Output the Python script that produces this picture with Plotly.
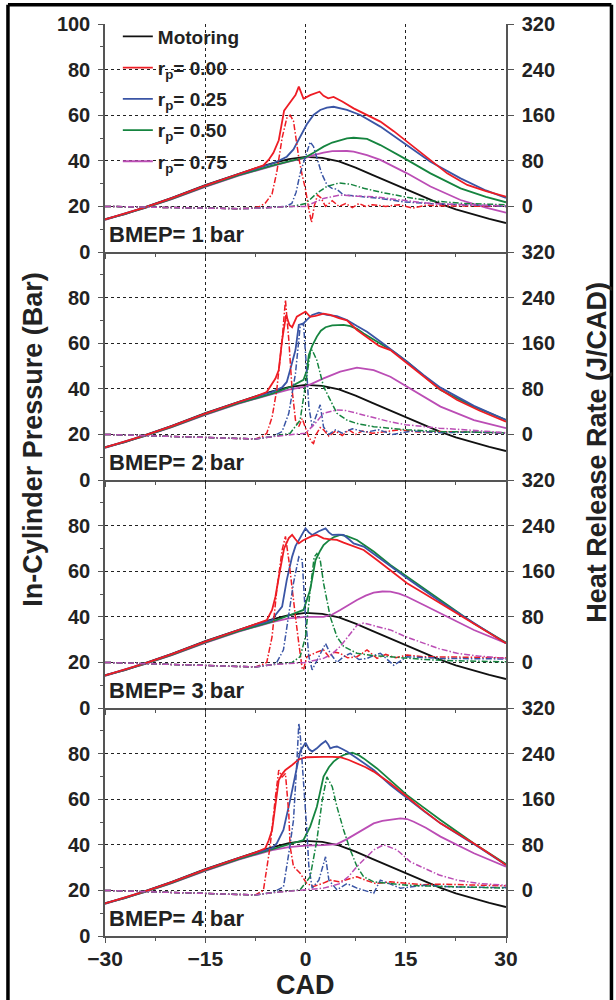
import plotly.graph_objects as go
from plotly.subplots import make_subplots

# ---------------- data ----------------
X_TICKS = [-30, -15, 0, 15, 30]
P_TICKS_TOP = [0, 20, 40, 60, 80, 100]
P_TICKS = [0, 20, 40, 60, 80]
HRR_TICKS = [0, 80, 160, 240, 320]
PANEL_LABELS = ["BMEP= 1 bar", "BMEP= 2 bar", "BMEP= 3 bar", "BMEP= 4 bar"]
SERIES_NAMES = ["Motoring", "r<sub>p</sub>= 0.00", "r<sub>p</sub>= 0.25",
                "r<sub>p</sub>= 0.50", "r<sub>p</sub>= 0.75"]

# Motoring pressure (same in every panel)
MOT_CAD = [-30, -27, -24, -20, -15, -10, -7.5, -5, -2.5, 0, 2.5, 5, 7.5, 10, 12.5, 15, 17.5, 20, 22.5, 25, 27.5, 30]
MOT_P = [14.4, 16.6, 19.7, 23.7, 29.3, 34.4, 36.7, 38.9, 40.7, 41.7, 41.3, 39.7, 37.0, 33.8, 30.7, 27.7, 24.4, 21.3, 18.7, 16.5, 14.5, 12.7]

# ---- BMEP 1 bar ----
B1_R00_CAD = [-30, -24, -20, -15, -10, -7.5, -6.3, -5.5, -4.8, -4.0, -3.6, -3.2, -2.7, -2.0, -1.5, -1.0, -0.3, 0.7, 2.1, 2.7, 3.4, 4.2, 5.5, 7.2, 9.2, 11.2, 13.2, 16.2, 18.7, 21.2, 24.2, 27, 30]
B1_R00_P = [14.3, 19.6, 23.6, 29.1, 34.2, 36.6, 38, 40.5, 43.5, 49, 55, 62, 64, 66.5, 68.8, 72.5, 67.2, 68.8, 70.3, 68.5, 67.4, 68, 66, 63, 60, 57.2, 53, 46.2, 40.4, 34.5, 29.4, 26.7, 24.3]
B1_R25_CAD = [-30, -24, -20, -15, -10, -7.5, -5, -3.8, -2.8, -1.8, -0.8, -0.3, 0.2, 1.2, 2.2, 3.2, 4.2, 6.2, 8.2, 11.2, 15.2, 18.7, 23.2, 27, 30]
B1_R25_P = [14.3, 19.6, 23.6, 29.1, 34.2, 36.5, 38.7, 40.3, 41.8, 45, 50.5, 53.5, 56, 60.1, 62.3, 63.3, 63.7, 62.3, 60.1, 55, 46.9, 39.6, 32.3, 27, 23.7]
B1_R50_CAD = [-30, -24, -20, -15, -10, -7.5, -5, -2.5, 0, 1.2, 2.7, 4, 5.2, 6.2, 7.2, 8.2, 9.2, 11.2, 13.2, 15.2, 18.7, 23.2, 27, 30]
B1_R50_P = [14.2, 19.4, 23.3, 28.8, 33.7, 35.9, 37.9, 39.8, 41.5, 43.5, 46.2, 48, 49.1, 49.8, 50.1, 50, 49.6, 46.9, 43.8, 40.4, 34.5, 27.9, 24.2, 21.8]
B1_R75_CAD = [-30, -24, -20, -15, -10, -7.5, -5, -2.5, 0, 1.2, 2.7, 4, 5.2, 6.2, 7.2, 9.2, 11.2, 13.2, 15.2, 18.7, 23.2, 27, 30]
B1_R75_P = [14.1, 19.3, 23.2, 28.6, 33.5, 35.7, 37.7, 39.6, 41.3, 42.5, 43.6, 44.2, 44.4, 44.3, 44, 42.5, 40.4, 37.5, 34.5, 28.7, 22.8, 19.5, 17.3]

B1_H00_CAD = [-30, -25, -20, -15, -10, -8, -6.8, -6, -5, -4.3, -3.5, -2.8, -2.3, -1.8, -1.3, -1, -0.5, 0, 0.5, 0.9, 1.3, 1.8, 2.3, 3, 3.5, 4, 5, 6, 7, 8, 9, 10, 12, 14, 16, 18, 20, 25, 30]
B1_H00 = [0, -1, -3, -4, -4, -3, 0, 6, 22, 60, 120, 155, 160, 150, 110, 85, 55, 30, -5, -28, 0, 20, 15, 0, 5, 10, 0, 5, -2, 5, 0, 3, 0, 3, -3, 2, 1, 1, 0]
B1_H25_CAD = [-30, -25, -20, -15, -10, -7, -4, -3, -2.05, -1.4, -0.8, 0, 0.7, 1.2, 1.7, 2.4, 3.2, 3.9, 4.7, 5.7, 7.7, 11.2, 14.7, 18.7, 26, 30]
B1_H25 = [0, -1, -3, -4, -4, -3, -1, 0, 5, 25, 58, 87, 113, 105, 87, 58, 38, 32, 30, 20, 18, 14, 8, 5, 2, 0]
B1_H50_CAD = [-30, -25, -20, -15, -10, -7, -4, -2, 0, 1.7, 3.2, 5, 6.7, 8.7, 11.2, 15.2, 18.7, 23.7, 30]
B1_H50 = [0, -1, -3, -4, -4, -3, -1, 0, 5, 23, 35, 41, 39, 32, 25, 16, 10, 5, 3]
B1_H75_CAD = [-30, -25, -20, -15, -10, -7, -4, -2, 0, 2.7, 5.2, 7.2, 10.2, 14.2, 18.7, 23.7, 30]
B1_H75 = [0, -1, -3, -4, -4, -3, -1, 0, 0, 14, 20, 18, 17, 11, 5, 3, 1]

# ---- BMEP 2 bar ----
B2_R00_CAD = [-30, -24, -20, -15, -10, -7.5, -5.8, -5, -4.5, -4, -3.5, -2.9, -2.4, -2, -1.3, -0.5, 0, 0.7, 1.5, 2.7, 3.7, 5, 6.2, 7.7, 9.7, 11, 12.7, 15.2, 17.7, 20, 22.7, 26, 30]
B2_R00_P = [14.3, 19.6, 23.6, 29.1, 34.2, 36.6, 38.6, 42, 44.5, 48.2, 61.4, 72.4, 68, 67, 71.6, 73, 73.8, 71.6, 72, 73, 72.4, 71, 70, 65.8, 61.4, 58.8, 57, 51.2, 45.3, 40, 35.1, 30.5, 25.6]
B2_R25_CAD = [-30, -24, -20, -15, -10, -7.5, -5, -3.5, -2.8, -2.3, -1.5, -1, -0.3, 0.2, 1, 2, 3.2, 4.7, 6.2, 7.7, 9.2, 11.2, 13.2, 15.2, 17.7, 20.2, 25.2, 30]
B2_R25_P = [14.3, 19.6, 23.6, 29.1, 34.2, 36.5, 38.6, 40.6, 43, 48.2, 57, 68, 68.7, 70.2, 72.4, 73.4, 72.4, 71.9, 70.2, 67.5, 65, 60.7, 56.5, 51.9, 46, 40.5, 32.5, 26.3]
B2_R50_CAD = [-30, -24, -20, -15, -10, -7.5, -5, -2.3, -0.3, 0.2, 0.5, 1, 1.7, 2.3, 3, 4, 4.7, 5.7, 6.7, 7.7, 8.7, 11.2, 13.2, 15.2, 17.7, 20.2, 25.2, 30]
B2_R50_P = [14.2, 19.4, 23.3, 28.8, 33.7, 35.9, 37.9, 40.8, 43.9, 48, 54.8, 58.8, 62.9, 65.5, 67, 67.8, 68, 68, 67.5, 66.3, 64.3, 60, 56.3, 51.9, 45.6, 39.5, 32.2, 26.3]
B2_R75_CAD = [-30, -24, -20, -15, -10, -7.5, -5, -2.5, 0, 2.7, 5.2, 7.7, 10.2, 12.7, 15.2, 17.7, 20.2, 25.2, 30]
B2_R75_P = [14.1, 19.3, 23.2, 28.6, 33.5, 35.7, 37.7, 39.6, 41, 44.6, 47.5, 49.3, 48.2, 45.3, 41, 36.5, 32.2, 26.3, 22.7]

B2_H00_CAD = [-30, -25, -20, -15, -10, -7.5, -6.5, -5.8, -5, -4.3, -3.5, -3, -2.5, -2, -1.5, -1, -0.5, 0, 0.5, 1, 1.2, 1.6, 2.2, 2.7, 3.5, 4.5, 5.5, 6.5, 7.5, 8.5, 10, 12, 14, 17, 20, 25, 30]
B2_H00 = [0, -2, -4, -6, -8, -8, -4, 2, 30, 78, 166, 236, 166, 78, 25, 14, 28, 10, -5, -14, -16, 0, 12, 8, -3, 6, -2, 8, 0, 6, 2, 5, 8, 4, 5, 4, 2]
B2_H25_CAD = [-30, -25, -20, -15, -10, -7.5, -5, -3.5, -2.5, -1.5, -0.8, -0.3, 0.2, 0.5, 1, 1.7, 2.2, 2.7, 3.5, 4.5, 5.5, 7, 9, 11, 13, 16, 20, 25, 30]
B2_H25 = [0, -2, -4, -6, -8, -8, -4, 5, 37, 107, 189, 195, 107, 49, 13, 37, 52, 13, 0, 8, 2, 10, 4, 8, 0, 6, 3, 4, 2]
B2_H50_CAD = [-30, -25, -20, -15, -10, -7.5, -5, -2.3, -0.8, 0, 0.7, 1, 1.7, 2.7, 3.7, 4.7, 6.2, 7.7, 10.2, 15.2, 20.2, 25, 30]
B2_H50 = [0, -2, -4, -6, -8, -8, -4, 2, 25, 90, 142, 148, 130, 84, 60, 37, 25, 19, 13.5, 8, 5, 4, 3]
B2_H75_CAD = [-30, -25, -20, -15, -10, -7.5, -5, -2, 0, 1.5, 2.7, 4.7, 6, 7.7, 10, 12.7, 15, 17.7, 20, 22.7, 26, 30]
B2_H75 = [0, -2, -4, -6, -8, -8, -4, -1, 2, 20, 37, 43, 42, 37, 30, 22, 17, 13.5, 11, 9, 6, 3]

# ---- BMEP 3 bar ----
B3_R00_CAD = [-30, -24, -20, -15, -10, -7.5, -5.8, -5, -4.5, -3.9, -3.2, -2.5, -2, -1.5, -1, -0.4, 0.2, 1, 1.7, 2.7, 3.7, 4.7, 5.7, 6.7, 8.7, 10.7, 12.7, 15.2, 17.7, 20.2, 22.7, 25.2, 27.7, 30]
B3_R00_P = [14.3, 19.6, 23.6, 29.1, 34.2, 36.6, 38.5, 43, 48.8, 59.1, 70, 74.5, 75.9, 74, 72.2, 73.5, 74.4, 75.5, 75.9, 74.4, 74, 73.7, 72.5, 71.5, 69.3, 64.9, 60.5, 54.7, 50.3, 45.9, 41.5, 37.1, 32.7, 28.4]
B3_R25_CAD = [-30, -24, -20, -15, -10, -7.5, -5, -4.5, -3.5, -2.8, -2, -1.5, -1, 0, 0.5, 1, 2, 3, 3.5, 4, 5, 5.7, 6.5, 7.2, 8.7, 10.7, 12.7, 15.2, 17.7, 20.2, 25.2, 30]
B3_R25_P = [14.3, 19.6, 23.6, 29.1, 34.2, 36.5, 38.5, 40.8, 44.5, 56.2, 66.4, 71, 73.7, 78.8, 77, 75.9, 77.5, 78.8, 77, 75.9, 76, 75.9, 74, 72.2, 70.8, 66.4, 62, 56.9, 51.8, 46.6, 37.3, 28.4]
B3_R50_CAD = [-30, -24, -20, -15, -10, -7.5, -5, -2.3, -0.3, 0.7, 1.5, 2.2, 2.7, 3.5, 4.2, 5.2, 6.2, 7.7, 9, 10.2, 12.7, 15.2, 17.7, 20.2, 25.2, 30]
B3_R50_P = [14.2, 19.4, 23.3, 28.8, 33.7, 35.9, 37.9, 40.8, 43, 51.8, 64.9, 69, 71.5, 73.5, 74.9, 75.9, 75.4, 73.7, 71, 68.6, 62.7, 57.6, 52.5, 47.4, 37.1, 28.7]
B3_R75_CAD = [-30, -24, -20, -15, -10, -7.5, -5, -2.5, 0, 2.7, 4, 5.2, 6.5, 7.7, 9, 10.2, 11.5, 12.7, 14, 15.2, 17.7, 20.2, 25.2, 30]
B3_R75_P = [14.1, 19.3, 23.2, 28.6, 33.5, 35.7, 37.7, 39.3, 40, 40, 41, 43, 45.3, 47.4, 49.3, 50.6, 51.1, 51, 50.2, 48.8, 45.2, 41.5, 34.2, 28.4]

B3_H00_CAD = [-30, -25, -20, -15, -10, -7.5, -6.5, -5.8, -5, -4.3, -3.5, -3, -2.5, -2, -1.5, -1, -0.5, -0.3, 0.2, 1, 1.7, 2.7, 3.5, 4.3, 5.2, 6.3, 7.7, 8.5, 9.2, 10.7, 12, 13.5, 15.2, 17.5, 20.2, 25, 30]
B3_H00 = [0, -2, -4, -6, -8, -8, -4, 0, 45, 127, 197, 221, 180, 127, 80, 33, -10, -13, 10, 14, 18, 22, 10, 18, 16, 8, 10, 16, 22, 7, 14, 8, 13, 10, 10, 9, 8]
B3_H25_CAD = [-30, -25, -20, -15, -10, -7.5, -5, -4.3, -3.3, -2.5, -1.8, -1, -0.5, 0, 0.5, 1, 2, 3, 3.7, 4.7, 5.7, 6.7, 8, 9.2, 10.2, 11.2, 13.2, 15.2, 20.2, 25, 30]
B3_H25 = [0, -2, -4, -6, -8, -8, -4, 0, 22, 80, 139, 185, 180, 80, 10, -13, 10, 33, 16, 0, 10, 16, 5, 7, 12, 16, -5, 10, 7, 6, 6]
B3_H50_CAD = [-30, -25, -20, -15, -10, -7.5, -5, -2, -0.8, 0, 0.7, 1.3, 1.7, 2.2, 2.7, 3.7, 4.7, 5.7, 7.7, 10, 12.7, 17.7, 22, 30]
B3_H50 = [0, -2, -4, -6, -8, -8, -4, 0, 10, 45, 127, 185, 191, 180, 139, 80, 45, 28, 16, 12, 10, 5, 3, 1]
B3_H75_CAD = [-30, -25, -20, -15, -10, -7.5, -5, -2, 0, 2.7, 4, 5.2, 6.5, 7.7, 8.7, 10.2, 12.7, 15, 17.7, 20, 22.7, 26, 30]
B3_H75 = [0, -2, -4, -6, -8, -8, -4, -1, 0, 7, 15, 28, 48, 65, 69, 65, 57, 45, 33, 24, 16, 11, 7]

# ---- BMEP 4 bar ----
B4_R00_CAD = [-30, -24, -20, -15, -10, -7.5, -6, -5.5, -5, -4.5, -4, -3.5, -3, -2, -1, 0.2, 1.5, 2.7, 4, 5.2, 6.5, 7.7, 9, 10.2, 12.7, 15.2, 17.7, 20.2, 22.7, 25.2, 27.7, 30]
B4_R00_P = [14.3, 19.6, 23.6, 29.1, 34.2, 36.6, 38.5, 42, 46.5, 56.7, 68.4, 71, 72.8, 75, 77.5, 78.4, 78.6, 78.6, 78.6, 78.4, 77.2, 75.7, 74, 72.1, 67, 61.1, 55, 49.4, 45, 40.6, 35.8, 31.1]
B4_R25_CAD = [-30, -24, -20, -15, -10, -7.5, -5, -4.3, -3.3, -2.3, -1.5, -0.8, 0, 0.5, 1, 1.7, 2.3, 3, 3.4, 3.7, 4.2, 4.7, 5.5, 6.2, 7.7, 10.2, 12.7, 15.2, 17.7, 20.2, 25.2, 30]
B4_R25_P = [14.3, 19.6, 23.6, 29.1, 34.2, 36.5, 38.5, 40.6, 46.5, 59.6, 71.3, 80.9, 84.8, 82, 80.9, 82.3, 84, 85.5, 84, 82.3, 82.8, 83.1, 82, 80.9, 78, 72.8, 66.2, 60.4, 54.8, 49.4, 40.3, 31.1]
B4_R50_CAD = [-30, -24, -20, -15, -10, -7.5, -5, -2.5, -0.3, 0.7, 1.7, 2.7, 3.5, 4.2, 5, 5.7, 7, 8, 8.7, 10.7, 12.7, 15.2, 17.7, 20.2, 25.2, 30]
B4_R50_P = [14.2, 19.4, 23.3, 28.8, 33.7, 35.9, 37.9, 40, 42.1, 48, 56.7, 69.9, 74, 76.5, 78.3, 79.4, 80.4, 79.3, 77.9, 73.5, 68.4, 61.8, 56.3, 50.9, 40.6, 31.6]
B4_R75_CAD = [-30, -24, -20, -15, -10, -7.5, -5, -2.5, 0, 2.7, 4.7, 6.2, 7.7, 9, 10.2, 11.5, 12.7, 14.2, 15.2, 16.2, 18, 20.2, 25.2, 30]
B4_R75_P = [14.1, 19.3, 23.2, 28.6, 33.5, 35.7, 37.7, 39, 39.6, 39.9, 40.3, 42.5, 45, 47.5, 49.4, 50.5, 50.9, 51.6, 51.3, 50.1, 47.5, 43.6, 36.3, 30.4]

B4_H00_CAD = [-30, -25, -20, -15, -10, -7.5, -6.3, -5.8, -5.3, -4.5, -4, -3.5, -3, -2.5, -2.3, -1.8, -0.8, 0.2, 1.2, 2.5, 3.7, 5, 6.5, 7.7, 9, 10.5, 12.7, 15.2, 17.5, 20.2, 25, 30]
B4_H00 = [0, -2, -4, -5, -7, -8, 0, 35, 77, 164, 211, 199, 205, 135, 77, 42, 30, 12, 7, 12, 18, 15, 20, 24, 18, 12, 15, 12, 10, 11, 9, 8]
B4_H25_CAD = [-30, -25, -20, -15, -10, -7.5, -5, -3.3, -2.5, -1.8, -1.3, -1, -0.8, -0.3, 0.2, 0.5, 1, 2, 3, 3.5, 4.7, 6.2, 7.7, 10.2, 11.2, 14.2, 17.7, 22, 30]
B4_H25 = [0, -2, -4, -5, -7, -8, -4, 6, 65, 123, 223, 293, 275, 194, 106, 42, 4, 18, 59, 18, 1, 12, 4, -5, 18, 4, 9, 6, 5]
B4_H50_CAD = [-30, -25, -20, -15, -10, -7.5, -5, -2, -0.8, 0.7, 1.7, 2.5, 3.2, 4, 4.7, 5.7, 6.7, 7.7, 8.7, 10.2, 15.2, 20.2, 25, 30]
B4_H50 = [0, -2, -4, -5, -7, -8, -4, -1, 1, 24, 88, 158, 199, 182, 147, 106, 71, 42, 24, 15, 9, 7, 5, 4]
B4_H75_CAD = [-30, -25, -20, -15, -10, -7.5, -5, -2, 0, 2.7, 5.2, 6.5, 7.7, 9, 10.2, 11.7, 13.7, 15.7, 17.7, 20, 22.7, 26, 30]
B4_H75 = [0, -2, -4, -5, -7, -8, -4, -1, 0, 4, 12, 25, 42, 58, 71, 80, 71, 50, 39, 27, 18, 12, 9]

# ---------------- styling ----------------
COLORS = ["#111111", "#ee1c24", "#3a55a5", "#15843f", "#bb4db5"]
FONT = "Liberation Sans, Arial, sans-serif"
HRR_DASH = "6px,2px,1.5px,2px"

PANELS = [
    [(B1_R00_CAD, B1_R00_P), (B1_R25_CAD, B1_R25_P), (B1_R50_CAD, B1_R50_P), (B1_R75_CAD, B1_R75_P)],
    [(B2_R00_CAD, B2_R00_P), (B2_R25_CAD, B2_R25_P), (B2_R50_CAD, B2_R50_P), (B2_R75_CAD, B2_R75_P)],
    [(B3_R00_CAD, B3_R00_P), (B3_R25_CAD, B3_R25_P), (B3_R50_CAD, B3_R50_P), (B3_R75_CAD, B3_R75_P)],
    [(B4_R00_CAD, B4_R00_P), (B4_R25_CAD, B4_R25_P), (B4_R50_CAD, B4_R50_P), (B4_R75_CAD, B4_R75_P)],
]
HRR_PANELS = [
    [(B1_H00_CAD, B1_H00), (B1_H25_CAD, B1_H25), (B1_H50_CAD, B1_H50), (B1_H75_CAD, B1_H75)],
    [(B2_H00_CAD, B2_H00), (B2_H25_CAD, B2_H25), (B2_H50_CAD, B2_H50), (B2_H75_CAD, B2_H75)],
    [(B3_H00_CAD, B3_H00), (B3_H25_CAD, B3_H25), (B3_H50_CAD, B3_H50), (B3_H75_CAD, B3_H75)],
    [(B4_H00_CAD, B4_H00), (B4_H25_CAD, B4_H25), (B4_H50_CAD, B4_H50), (B4_H75_CAD, B4_H75)],
]

fig = make_subplots(rows=4, cols=1, shared_xaxes=False, vertical_spacing=0,
                    specs=[[{"secondary_y": True}]] * 4)

for r in range(4):
    row = r + 1
    first = (r == 0)
    # heat release (dash-dot, right axis)
    for k, (cx, cy) in enumerate(HRR_PANELS[r]):
        fig.add_trace(go.Scatter(x=cx, y=cy, mode="lines", showlegend=False,
                                 line=dict(color=COLORS[k + 1], width=1.5, dash=HRR_DASH),
                                 hoverinfo="skip"),
                      row=row, col=1, secondary_y=True)
    # motoring
    fig.add_trace(go.Scatter(x=MOT_CAD, y=MOT_P, mode="lines", name=SERIES_NAMES[0],
                             legendgroup="g0", showlegend=first, legendrank=1,
                             line=dict(color=COLORS[0], width=1.8)),
                  row=row, col=1, secondary_y=False)
    # pressure traces
    for k in range(3, -1, -1):
        cx, cy = PANELS[r][k]
        fig.add_trace(go.Scatter(x=cx, y=cy, mode="lines", name=SERIES_NAMES[k + 1],
                                 legendgroup=f"g{k+1}", showlegend=first, legendrank=k + 2,
                                 line=dict(color=COLORS[k + 1], width=1.8)),
                      row=row, col=1, secondary_y=False)

AX_LINE = "#555555"
for r in range(4):
    row = r + 1
    fig.update_xaxes(row=row, col=1, domain=[0, 1], range=[-30, 30], tickvals=X_TICKS,
                     automargin=False,
                     showgrid=True, gridcolor="#222222", griddash="dot", gridwidth=1,
                     showline=True, linecolor=AX_LINE, linewidth=1.5, zeroline=False,
                     ticks="outside", ticklen=5, tickcolor=AX_LINE, tickwidth=1,
                     minor=dict(tickvals=[-22.5, -7.5, 7.5, 22.5], ticks="outside",
                                ticklen=3, tickcolor=AX_LINE, showgrid=False),
                     showticklabels=(row == 4), ticklabelstandoff=-2,
                     tickfont=dict(family=FONT, size=21, color="#222", weight="bold"))
    fig.update_yaxes(row=row, col=1, secondary_y=False, range=[0, 100], automargin=False,
                     tickvals=P_TICKS_TOP if row == 1 else P_TICKS,
                     showgrid=True, gridcolor="#222222", griddash="dot", gridwidth=1,
                     showline=True, linecolor=AX_LINE, linewidth=1.5, zeroline=False,
                     ticks="outside", ticklen=5, tickcolor=AX_LINE,
                     minor=dict(tickvals=[10, 30, 50, 70, 90], ticks="outside",
                                ticklen=3, tickcolor=AX_LINE, showgrid=False),
                     ticklabelstandoff=4,
                     tickfont=dict(family=FONT, size=20, color="#222", weight="bold"))
    fig.update_yaxes(row=row, col=1, secondary_y=True, range=[-80, 320], automargin=False,
                     tickvals=HRR_TICKS, showgrid=False,
                     showline=True, linecolor=AX_LINE, linewidth=1.5, zeroline=False,
                     ticks="outside", ticklen=6, tickcolor=AX_LINE,
                     ticklabelstandoff=4,
                     tickfont=dict(family=FONT, size=20, color="#222", weight="bold"))
    xr = "x" if row == 1 else f"x{row}"
    yr = "y" if row == 1 else f"y{2 * row - 1}"
    fig.add_annotation(text=PANEL_LABELS[r], xref=f"{xr} domain", yref=f"{yr} domain",
                       x=0.005, y=0.015, xanchor="left", yanchor="bottom", showarrow=False,
                       font=dict(family=FONT, size=22, color="#222", weight="bold"))

# axis titles
fig.add_annotation(text="In-Cylinder Pressure (Bar)", xref="paper", yref="paper",
                   x=-0.18, y=0.545, xanchor="center", yanchor="middle",
                   textangle=-90, showarrow=False,
                   font=dict(family=FONT, size=27, color="#222", weight="bold"))
fig.add_annotation(text="Heat Release Rate (J/CAD)", xref="paper", yref="paper",
                   x=1.227, y=0.53, xanchor="center", yanchor="middle",
                   textangle=-90, showarrow=False,
                   font=dict(family=FONT, size=27, color="#222", weight="bold"))
fig.add_annotation(text="CAD", xref="paper", yref="paper", x=0.499, y=-0.054,
                   xanchor="center", yanchor="middle", showarrow=False,
                   font=dict(family=FONT, size=27, color="#222", weight="bold"))

# outer frame
for (x0, y0, x1, y1) in [(-0.242, -0.2, -0.242, 1.021), (-0.242, 1.021, 1.263, 1.021),
                         (1.263, 1.021, 1.263, -0.2)]:
    fig.add_shape(type="line", xref="paper", yref="paper", x0=x0, y0=y0, x1=x1, y1=y1,
                  line=dict(color="black", width=3.5))

fig.update_layout(
    width=616, height=1000, autosize=False,
    margin=dict(l=105, r=110, t=24, b=64, autoexpand=False),
    paper_bgcolor="white", plot_bgcolor="white",
    showlegend=True,
    legend=dict(x=0.032, y=1.007, xanchor="left", yanchor="top", bgcolor="rgba(0,0,0,0)",
                font=dict(family=FONT, size=19, color="#222", weight="bold"),
                tracegroupgap=3.5, itemwidth=30, traceorder="grouped"),
    font=dict(family=FONT),
)

fig.write_html(
    "out.html",
    config={"responsive": False, "displayModeBar": False},
    post_script="document.documentElement.style.margin='0';"
                "document.body.style.margin='0';"
                "document.body.style.overflow='hidden';",
)
